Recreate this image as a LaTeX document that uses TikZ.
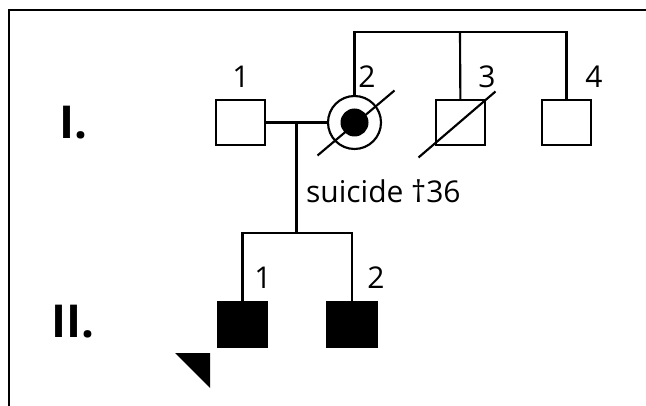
\documentclass[tikz,border=0pt]{standalone}
\usepackage{fontspec}
\setmainfont{Open Sans}
\usetikzlibrary{calc}
\tikzset{
  ped/.style={x=0.75pt, y=-0.75pt, line width=1.6pt, font=\fontsize{22.5}{26}\selectfont},
  p male/.style={draw, rectangle, minimum width=36.75pt, minimum height=34pt, inner sep=0pt},
  p fem/.style={draw, circle, minimum size=39.75pt, inner sep=0pt},
  p aff/.style={fill=black},
  p dot/.style={circle, fill=black, minimum size=21pt, inner sep=0pt},
  p num/.style={inner sep=0pt},
  p gen/.style={font=\fontsize{34}{40}\selectfont\bfseries, inner sep=0pt},
  p note/.style={inner sep=0pt, anchor=base west},
}
\begin{document}
\begin{tikzpicture}[ped]
\useasboundingbox (0,0) rectangle (646,406);
\draw (8.7,406) -- (8.7,10) -- (646,10);
% ---- generation I ----
\node[p gen] (g1) at (73,123) {I.};
\node[p male] (i1) at (240.5,122.5) {};
\node[p fem]  (i2) at (354.5,122.5) {};
\node[p dot]  (i2d) at (i2) {};
\node[p male] (i3) at (460.5,122.5) {};
\node[p male] (i4) at (566.5,122.5) {};
\node[p num] at (241,77) {1}; \node[p num] at (367,77) {2};
\node[p num] at (487,77) {3}; \node[p num] at (594,77) {4};
\draw ($(i2)+(-37,33)$) -- ($(i2)+(40,-32)$);
\draw ($(i3)+(-42,35)$) -- ($(i3)+(35,-31)$);
\coordinate (s1) at (460,32);
\draw (i2) |- (s1) -| (i4); \draw (s1) -- (i3);
\draw (i1) -- (i2);
\coordinate (m1) at ($(i1.east)!0.5!(i2.west)$);
\node[p note] (n2) at (305,203) {suicide †36};
% ---- generation II ----
\node[p gen] (g2) at (73,322) {II.};
\node[p male, p aff] (ii1) at (242.5,324.5) {};
\node[p male, p aff] (ii2) at (352,324.5) {};
\node[p num] at (263,278) {1}; \node[p num] at (376,278) {2};
\coordinate (s2) at (m1 |- 0,233);
\draw (m1) -- (s2);
\draw (ii1) |- (s2) -| (ii2);
\fill ($(ii1)+(-67.5,28.5)$) -- ++(35,0) -- ++(0,35) -- cycle;
\end{tikzpicture}
\end{document}
